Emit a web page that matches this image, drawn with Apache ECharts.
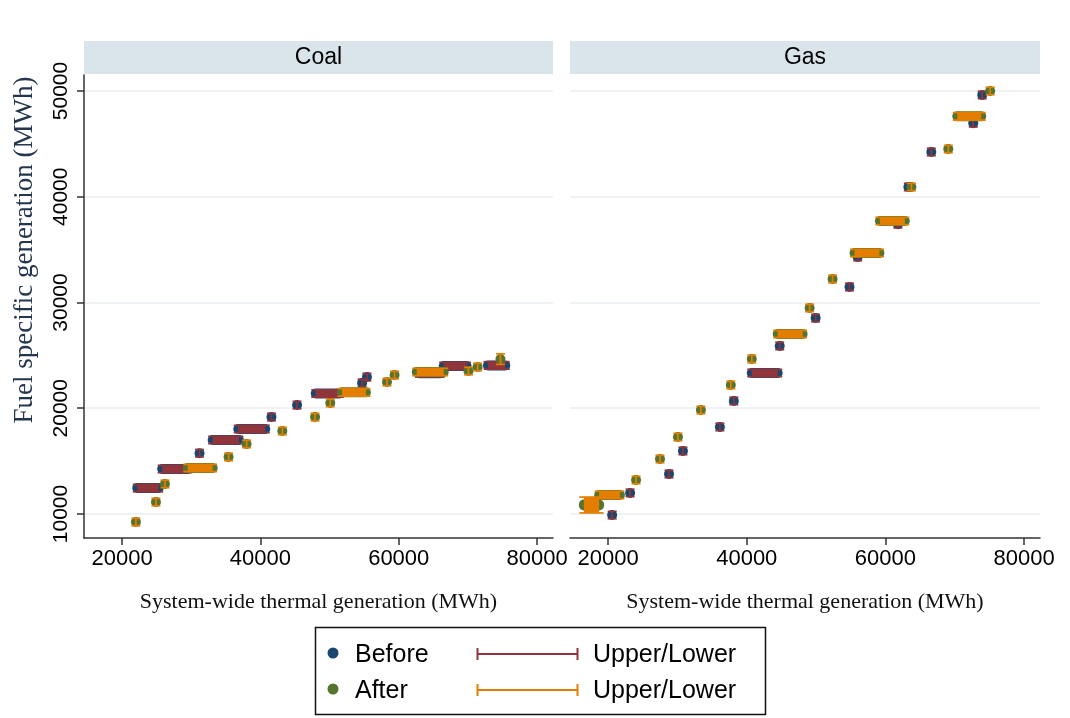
<!DOCTYPE html>
<html><head><meta charset="utf-8">
<script src="https://cdn.jsdelivr.net/npm/echarts@6/dist/echarts.min.js"></script>
<style>html,body{margin:0;padding:0;background:#fff}#c{width:1070px;height:718px}</style>
</head><body><div id="c"></div>
<script>
// ---- data ----
const panels = ['Coal', 'Gas'];
const xTicks = [20000, 40000, 60000, 80000];
const yTicks = [10000, 20000, 30000, 40000, 50000];
const xTitle = 'System-wide thermal generation (MWh)';
const yTitle = 'Fuel specific generation (MWh)';
const legendLabels = ['Before', 'Upper/Lower', 'After', 'Upper/Lower'];

// single observations: [x, y, lower, upper]
const coalBefore = [
  [31200, 15750, 15400, 16100],
  [41600, 19170, 18820, 19520],
  [45300, 20300, 19950, 20650],
  [54700, 22390, 22040, 22740],
  [55400, 22950, 22600, 23300]
];
// runs of many observations at (almost) the same level: [xStart, xEnd, yLow, yHigh, lower, upper]
const coalBeforeRuns = [
  [22200, 25300, 12450, 12450, 12100, 12800],
  [25800, 29500, 14250, 14250, 13900, 14600],
  [33100, 36900, 17000, 17000, 16650, 17350],
  [36800, 40700, 18040, 18040, 17690, 18390],
  [48000, 51400, 21400, 21400, 21050, 21750],
  [63000, 66000, 23300, 23300, 22950, 23650],
  [66500, 69800, 24000, 24000, 23650, 24350],
  [72900, 75400, 24050, 24050, 23700, 24400]
];
const coalAfter = [
  [22000, 9240, 8890, 9590],
  [24900, 11130, 10780, 11480],
  [26200, 12840, 12490, 13190],
  [35400, 15390, 15040, 15740],
  [38000, 16620, 16270, 16970],
  [43170, 17850, 17500, 18200],
  [47900, 19170, 18820, 19520],
  [50100, 20500, 20150, 20850],
  [58300, 22480, 22130, 22830],
  [59400, 23140, 22790, 23490],
  [70080, 23520, 23170, 23870],
  [71400, 23900, 23550, 24250],
  [74700, 24650, 24150, 25150]
];
const coalAfterRuns = [
  [29500, 33100, 14350, 14350, 14000, 14700],
  [51800, 55250, 21500, 21500, 21150, 21850],
  [62600, 66500, 23430, 23430, 23080, 23780]
];
const gasBefore = [
  [20580, 9900, 9550, 10250],
  [23170, 11990, 11640, 12340],
  [28780, 13780, 13430, 14130],
  [30790, 15960, 15610, 16310],
  [36120, 18230, 17880, 18580],
  [38130, 20690, 20340, 21040],
  [44750, 25890, 25540, 26240],
  [49930, 28530, 28180, 28880],
  [54820, 31470, 31120, 31820],
  [56000, 34300, 33950, 34650],
  [61800, 37400, 37050, 37750],
  [63310, 40920, 40570, 41270],
  [66620, 44230, 43880, 44580],
  [72670, 46950, 46600, 47300],
  [73960, 49620, 49270, 49970]
];
const gasBeforeRuns = [
  [40720, 44460, 23330, 23330, 22980, 23680]
];
const gasAfter = [
  [24030, 13215, 12865, 13565],
  [27480, 15200, 14850, 15550],
  [30070, 17280, 16930, 17630],
  [33380, 19830, 19480, 20180],
  [37700, 22200, 21850, 22550],
  [40720, 24660, 24310, 25010],
  [49070, 29480, 29130, 29830],
  [52380, 32220, 31870, 32570],
  [63750, 40920, 40570, 41270],
  [69070, 44510, 44160, 44860],
  [75110, 50000, 49650, 50350]
];
const gasAfterRuns = [
  [16500, 18700, 10800, 10900, 10100, 11600],
  [18700, 21700, 11800, 11800, 11450, 12150],
  [44460, 48060, 27020, 27020, 26670, 27370],
  [55540, 59140, 34680, 34680, 34330, 35030],
  [59200, 62800, 37700, 37700, 37350, 38050],
  [70370, 73820, 47600, 47600, 47250, 47950]
];

// ---- style ----
const NAVY = '#1a476f', MAROON = '#90353b', GREEN = '#55752f', ORANGE = '#e37e00';
const SANS = 'Liberation Sans', SERIF = 'Liberation Serif';
const R = 5, CAPW = 4.5, LW = 1.7;

function pointCaps(color) {
  return function (params, api) {
    const x = api.value(0);
    const t = api.coord([x, api.value(3)]);
    const b = api.coord([x, api.value(2)]);
    const st = { stroke: color, lineWidth: LW };
    return { type: 'group', children: [
      { type: 'line', shape: { x1: t[0], y1: t[1], x2: b[0], y2: b[1] }, style: st },
      { type: 'line', shape: { x1: t[0] - CAPW, y1: t[1], x2: t[0] + CAPW, y2: t[1] }, style: st },
      { type: 'line', shape: { x1: b[0] - CAPW, y1: b[1], x2: b[0] + CAPW, y2: b[1] }, style: st }
    ]};
  };
}
function runMarkers(color) {
  return function (params, api) {
    const a = api.coord([api.value(0), api.value(3)]);
    const b = api.coord([api.value(1), api.value(2)]);
    return { type: 'rect', shape: { x: a[0] - R, y: a[1] - R, width: b[0] - a[0] + 2 * R, height: b[1] - a[1] + 2 * R, r: R },
      style: { fill: color } };
  };
}
function runCaps(color) {
  return function (params, api) {
    const a = api.coord([api.value(0), api.value(5)]);
    const b = api.coord([api.value(1), api.value(4)]);
    const st = { stroke: color, lineWidth: LW };
    return { type: 'group', children: [
      { type: 'rect', shape: { x: a[0], y: a[1], width: b[0] - a[0], height: b[1] - a[1] }, style: { fill: color } },
      { type: 'line', shape: { x1: a[0] - CAPW, y1: a[1], x2: b[0] + CAPW, y2: a[1] }, style: st },
      { type: 'line', shape: { x1: a[0] - CAPW, y1: b[1], x2: b[0] + CAPW, y2: b[1] }, style: st }
    ]};
  };
}

function panelSeries(i, before, beforeRuns, after, afterRuns) {
  const ax = { xAxisIndex: i, yAxisIndex: i };
  return [
    Object.assign({ type: 'scatter', data: before.map(p => [p[0], p[1]]), symbol: 'circle', symbolSize: 2 * R,
      itemStyle: { color: NAVY, opacity: 1 }, z: 2, silent: true }, ax),
    Object.assign({ type: 'custom', data: beforeRuns, renderItem: runMarkers(NAVY), encode: { x: [0, 1], y: [2, 3] }, z: 2, silent: true }, ax),
    Object.assign({ type: 'custom', data: before, renderItem: pointCaps(MAROON), encode: { x: 0, y: [1, 2, 3] }, z: 3, silent: true }, ax),
    Object.assign({ type: 'custom', data: beforeRuns, renderItem: runCaps(MAROON), encode: { x: [0, 1], y: [4, 5] }, z: 3, silent: true }, ax),
    Object.assign({ type: 'scatter', data: after.map(p => [p[0], p[1]]), symbol: 'circle', symbolSize: 2 * R,
      itemStyle: { color: GREEN, opacity: 1 }, z: 4, silent: true }, ax),
    Object.assign({ type: 'custom', data: afterRuns, renderItem: runMarkers(GREEN), encode: { x: [0, 1], y: [2, 3] }, z: 4, silent: true }, ax),
    Object.assign({ type: 'custom', data: after, renderItem: pointCaps(ORANGE), encode: { x: 0, y: [1, 2, 3] }, z: 5, silent: true }, ax),
    Object.assign({ type: 'custom', data: afterRuns, renderItem: runCaps(ORANGE), encode: { x: [0, 1], y: [4, 5] }, z: 5, silent: true }, ax)
  ];
}

const grids = [
  { left: 84, top: 75, width: 469, height: 463 },
  { left: 570, top: 75, width: 470, height: 463 }
];
const plain = v => String(v);

function xAxis(i) {
  return {
    type: 'value', gridIndex: i, min: 14500, max: 82300,
    axisLine: { show: true, lineStyle: { color: '#333', width: 1.5 } },
    axisTick: { show: true, length: 7, customValues: xTicks, lineStyle: { color: '#333', width: 1.5 } },
    axisLabel: { customValues: xTicks, formatter: plain, color: '#000', fontFamily: SANS, fontSize: 22, margin: 10 },
    splitLine: { show: false },
    name: xTitle, nameLocation: 'middle', nameGap: 53,
    nameTextStyle: { fontFamily: SERIF, fontSize: 22, color: '#111' }
  };
}
function yAxis(i) {
  const show = i === 0;
  return {
    type: 'value', gridIndex: i, min: 7730, max: 51510,
    axisLine: { show: show, onZero: false, lineStyle: { color: '#333', width: 1.5 } },
    axisTick: { show: show, length: 7, customValues: yTicks, lineStyle: { color: '#333', width: 1.5 } },
    axisLabel: { show: show, customValues: yTicks, formatter: plain, rotate: 90, color: '#000', fontFamily: SANS, fontSize: 21, margin: 12 },
    splitLine: { show: true, lineStyle: { color: '#e8eef1', width: 1.5 } }
  };
}

const graphic = [];
panels.forEach((p, i) => {
  const g = grids[i];
  graphic.push({ type: 'rect', left: g.left, top: 41, shape: { width: g.width, height: 33 }, style: { fill: '#d9e5eb' }, silent: true });
  graphic.push({ type: 'text', x: g.left + g.width / 2, y: 57.5, style: { text: p, fontFamily: SANS, fontSize: 23, fill: '#000', align: 'center', verticalAlign: 'middle' }, silent: true });
});
graphic.push({ type: 'text', x: 25, y: 250, rotation: Math.PI / 2,
  style: { text: yTitle, fontFamily: SERIF, fontSize: 27, fill: '#24364d', align: 'center', verticalAlign: 'middle' }, silent: true });
// legend box
graphic.push({ type: 'rect', shape: { x: 315.5, y: 627.5, width: 450, height: 87 }, style: { fill: '#fff', stroke: '#111', lineWidth: 1.5 }, silent: true });
const rows = [
  { y: 654, dot: NAVY, cap: MAROON, a: legendLabels[0], b: legendLabels[1] },
  { y: 690, dot: GREEN, cap: ORANGE, a: legendLabels[2], b: legendLabels[3] }
];
rows.forEach(r => {
  graphic.push({ type: 'circle', shape: { cx: 333, cy: r.y - 1, r: 5.5 }, style: { fill: r.dot }, silent: true });
  graphic.push({ type: 'text', x: 355, y: r.y + 1, style: { text: r.a, fontFamily: SANS, fontSize: 25, fill: '#000', verticalAlign: 'middle' }, silent: true });
  graphic.push({ type: 'line', shape: { x1: 477, y1: r.y, x2: 578, y2: r.y }, style: { stroke: r.cap, lineWidth: 2 }, silent: true });
  graphic.push({ type: 'line', shape: { x1: 477.5, y1: r.y - 6, x2: 477.5, y2: r.y + 6 }, style: { stroke: r.cap, lineWidth: 2 }, silent: true });
  graphic.push({ type: 'line', shape: { x1: 577.5, y1: r.y - 6, x2: 577.5, y2: r.y + 6 }, style: { stroke: r.cap, lineWidth: 2 }, silent: true });
  graphic.push({ type: 'text', x: 593, y: r.y + 1, style: { text: r.b, fontFamily: SANS, fontSize: 25, fill: '#000', verticalAlign: 'middle' }, silent: true });
});

const chart = echarts.init(document.getElementById('c'), null, { renderer: 'canvas' });
chart.setOption({
  animation: false,
  backgroundColor: '#fff',
  grid: grids,
  xAxis: [xAxis(0), xAxis(1)],
  yAxis: [yAxis(0), yAxis(1)],
  series: [].concat(
    panelSeries(0, coalBefore, coalBeforeRuns, coalAfter, coalAfterRuns),
    panelSeries(1, gasBefore, gasBeforeRuns, gasAfter, gasAfterRuns)
  ),
  graphic: graphic
});
</script>
</body></html>
